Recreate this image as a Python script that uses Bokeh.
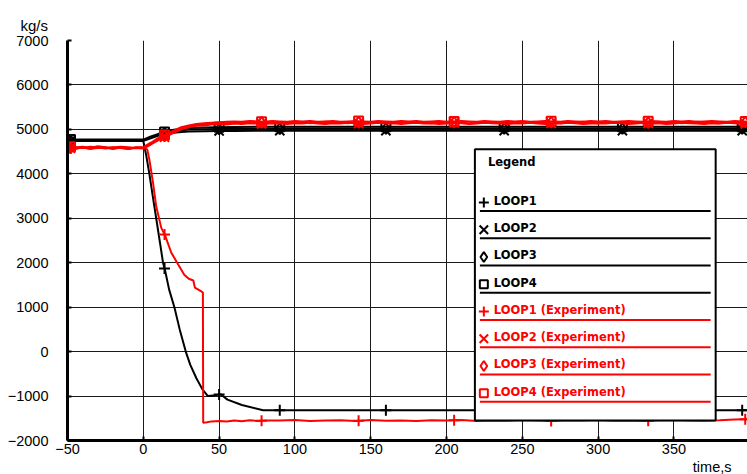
import numpy as np
from bokeh.plotting import figure
from bokeh.models import Label, FixedTicker, Title
from bokeh.embed import file_html
from bokeh.resources import INLINE

# ---- axes ----
X_TICKS = [-50, 0, 50, 100, 150, 200, 250, 300, 350]
Y_TICKS = [-2000, -1000, 0, 1000, 2000, 3000, 4000, 5000, 6000, 7000]

# ---- simulation (black) ----
T_SIM = [-50, -25, 0, 5, 10, 15, 20, 25, 30, 40, 50, 60, 80, 100, 150, 200, 250, 300, 350, 400]
SIM_LOOP2 = [4740, 4745, 4745, 4800, 4860, 4900, 4925, 4940, 4950, 4960, 4965, 4965, 4970, 4970,
             4970, 4970, 4970, 4970, 4970, 4970]
SIM_LOOP3 = [4750, 4755, 4755, 4820, 4880, 4930, 4960, 4980, 4995, 5005, 5010, 5015, 5015, 5020,
             5020, 5020, 5020, 5020, 5020, 5020]
SIM_LOOP4 = [4770, 4770, 4770, 4840, 4900, 4950, 4990, 5010, 5030, 5045, 5050, 5055, 5060, 5060,
             5060, 5060, 5060, 5060, 5060, 5060]

T_SIM1 = [-50, -25, 0, 2, 4, 6, 8.5, 11, 13, 14.4, 17, 20.5, 24, 28, 31, 35, 39, 42.6, 46, 51,
          55.5, 65, 79, 100, 150, 200, 250, 300, 350, 400]
SIM_LOOP1 = [4745, 4750, 4740, 4400, 4000, 3550, 3000, 2450, 2000, 1820, 1400, 1000, 500, 0,
             -300, -600, -850, -1000, -990, -960, -1080, -1200, -1320, -1320, -1320, -1320,
             -1320, -1320, -1320, -1320]

# ---- experiment (red) ----
T_EXP = [-50, -45, -40, -35, -30, -25, -20, -15, -10, -5,
         0, 5, 10, 15, 20, 25, 30, 35, 40, 45, 50,
         55, 60, 65, 70, 75, 80, 85, 90, 95, 100,
         105, 110, 115, 120, 125, 130, 135, 140, 145, 150,
         155, 160, 165, 170, 175, 180, 185, 190, 195, 200,
         205, 210, 215, 220, 225, 230, 235, 240, 245, 250,
         255, 260, 265, 270, 275, 280, 285, 290, 295, 300,
         305, 310, 315, 320, 325, 330, 335, 340, 345, 350,
         355, 360, 365, 370, 375, 380, 385, 390, 395, 400]
EXP_LOOP2 = [4590, 4560, 4600, 4570, 4580, 4600, 4560, 4590, 4570, 4580,
             4570, 4660, 4760, 4840, 4920, 5000, 5050, 5080, 5090, 5110, 5120,
             5110, 5130, 5120, 5140, 5130, 5120, 5140, 5130, 5120, 5140,
             5130, 5150, 5130, 5120, 5140, 5130, 5150, 5140, 5120, 5130,
             5150, 5130, 5140, 5120, 5140, 5150, 5130, 5140, 5120, 5130,
             5150, 5140, 5120, 5130, 5150, 5140, 5130, 5120, 5140, 5130,
             5150, 5130, 5120, 5140, 5130, 5150, 5140, 5120, 5130, 5140,
             5130, 5150, 5140, 5120, 5130, 5150, 5130, 5140, 5120, 5130,
             5150, 5140, 5130, 5120, 5140, 5130, 5150, 5140, 5120, 5130]
EXP_LOOP3 = [4570, 4600, 4580, 4610, 4590, 4570, 4600, 4580, 4560, 4600,
             4590, 4680, 4790, 4870, 4950, 5030, 5070, 5100, 5110, 5130, 5140,
             5150, 5140, 5160, 5150, 5170, 5150, 5140, 5160, 5150, 5170,
             5160, 5140, 5150, 5170, 5160, 5150, 5140, 5160, 5170, 5150,
             5160, 5140, 5150, 5170, 5160, 5150, 5160, 5140, 5150, 5170,
             5160, 5150, 5140, 5160, 5170, 5150, 5160, 5140, 5150, 5170,
             5160, 5150, 5170, 5160, 5140, 5150, 5160, 5170, 5150, 5140,
             5160, 5150, 5170, 5160, 5150, 5140, 5160, 5170, 5150, 5160,
             5140, 5150, 5170, 5160, 5150, 5140, 5160, 5150, 5170, 5160]
EXP_LOOP4 = [4620, 4590, 4610, 4580, 4620, 4600, 4590, 4610, 4600, 4580,
             4600, 4700, 4810, 4890, 4970, 5050, 5090, 5120, 5140, 5150, 5160,
             5170, 5180, 5170, 5190, 5180, 5170, 5190, 5180, 5170, 5190,
             5180, 5190, 5170, 5180, 5190, 5170, 5180, 5190, 5180, 5170,
             5190, 5180, 5170, 5190, 5180, 5190, 5170, 5180, 5190, 5170,
             5180, 5190, 5180, 5170, 5190, 5180, 5170, 5190, 5180, 5190,
             5170, 5180, 5190, 5180, 5170, 5190, 5180, 5170, 5190, 5180,
             5190, 5170, 5180, 5190, 5180, 5170, 5190, 5180, 5170, 5190,
             5180, 5190, 5170, 5180, 5190, 5180, 5170, 5190, 5180, 5170]

T_EXP1 = [-50, -45, -40, -35, -30, -25, -20, -15, -10, -5, 0,
          2.6, 4, 6.4, 8.5, 11.8, 14.4, 18.4, 23, 27, 30, 33, 34, 36, 38, 39.3,
          39.5, 42, 45, 50, 55, 60, 65, 70, 75, 80,
          90, 100, 110, 120, 130, 140, 150, 160, 170, 180, 190, 200, 210, 220, 230, 240,
          250, 260, 270, 280, 290, 300, 310, 320, 330, 340, 350, 360, 370, 380, 390, 400]
EXP_LOOP1 = [4600, 4570, 4590, 4560, 4600, 4580, 4570, 4600, 4560, 4590, 4580,
             4550, 4320, 3800, 3270, 2790, 2610, 2230, 1960, 1730, 1640, 1600, 1440, 1400, 1360, 1330,
             -1600, -1590, -1570, -1560, -1575, -1550, -1565, -1545, -1560, -1550,
             -1550, -1540, -1560, -1550, -1545, -1560, -1540, -1555, -1550, -1560, -1545, -1550,
             -1540, -1560, -1550, -1555, -1540, -1550, -1560, -1545, -1550, -1540, -1555, -1550,
             -1560, -1545, -1540, -1550, -1555, -1545, -1530, -1520]

# times at which symbols are placed along each curve
SIM_MARK_T = [-48, 14, 50, 90, 160, 238, 316, 395]
EXP_MARK_T = [-48, 14, 78, 142, 205, 269, 333, 397]

BLACK = "#000000"
RED = "#ff0000"

SERIES = [
    ("LOOP1", T_SIM1, SIM_LOOP1, BLACK, "cross", SIM_MARK_T),
    ("LOOP2", T_SIM, SIM_LOOP2, BLACK, "x", SIM_MARK_T),
    ("LOOP3", T_SIM, SIM_LOOP3, BLACK, "diamond", SIM_MARK_T),
    ("LOOP4", T_SIM, SIM_LOOP4, BLACK, "square", SIM_MARK_T),
    ("LOOP1 (Experiment)", T_EXP1, EXP_LOOP1, RED, "cross", EXP_MARK_T),
    ("LOOP2 (Experiment)", T_EXP, EXP_LOOP2, RED, "x", EXP_MARK_T),
    ("LOOP3 (Experiment)", T_EXP, EXP_LOOP3, RED, "diamond", EXP_MARK_T),
    ("LOOP4 (Experiment)", T_EXP, EXP_LOOP4, RED, "square", EXP_MARK_T),
]
MARKER_SIZE = {"cross": 11, "x": 13, "diamond": 11, "square": 9}

p = figure(width=747, height=474, x_range=(-50, 398.5), y_range=(-2000, 7000),
           output_backend="svg", toolbar_location=None,
           min_border_left=67, min_border_right=0, min_border_top=40, min_border_bottom=33)
p.outline_line_color = None
p.background_fill_color = "white"
p.border_fill_color = "white"

for ax in (p.xaxis, p.yaxis):
    ax.axis_line_width = 3
    ax.axis_line_color = BLACK
    ax.major_tick_in = 4
    ax.major_tick_out = 0
    ax.major_tick_line_width = 2
    ax.minor_tick_line_color = None
    ax.major_label_text_font = "Liberation Sans"
    ax.major_label_text_font_size = "14.5px"
    ax.major_label_text_color = BLACK
p.xaxis.ticker = FixedTicker(ticks=X_TICKS)
p.yaxis.ticker = FixedTicker(ticks=Y_TICKS)
p.xaxis.major_label_standoff = 3
p.yaxis.major_label_standoff = 19

for g in (p.xgrid, p.ygrid):
    g.grid_line_color = "#1a1a1a"
    g.grid_line_width = 1
p.xgrid.ticker = FixedTicker(ticks=X_TICKS)
p.ygrid.ticker = FixedTicker(ticks=Y_TICKS)

# curves and their symbols
for name, t, v, color, marker, mark_t in SERIES:
    p.line(t, v, line_color=color, line_width=2)
    mv = np.interp(mark_t, t, v)
    p.scatter(mark_t, mv, marker=marker, size=MARKER_SIZE[marker], line_color=color,
              line_width=2, fill_color=None)

# legend panel (data units)
LEG_LEFT, LEG_RIGHT, LEG_TOP, LEG_BOTTOM = 218.7, 377.5, 4555, -1548
LEG_FIRST_LINE, LEG_STEP = 3164, 613
p.quad(left=[LEG_LEFT], right=[LEG_RIGHT], top=[LEG_TOP], bottom=[LEG_BOTTOM],
       fill_color="white", line_color=BLACK, line_width=2, level="guide")
p.add_layout(Label(x=227.3, y=4264, text="Legend", text_font="DejaVu Sans",
                   text_font_style="bold", text_font_size="11.5px", text_color=BLACK,
                   text_baseline="middle", text_align="left"))
for i, (name, t, v, color, marker, mark_t) in enumerate(SERIES):
    ly = LEG_FIRST_LINE - LEG_STEP * i
    p.segment(x0=[222.0], y0=[ly], x1=[374.2], y1=[ly], line_color=color, line_width=2,
              level="guide")
    p.scatter([224.6], [ly + 190], marker=marker, size=MARKER_SIZE[marker] - 1,
              line_color=color, line_width=2, fill_color=None, level="guide")
    p.add_layout(Label(x=231.2, y=ly + 225, text=name, text_font="DejaVu Sans",
                       text_font_style="bold", text_font_size="11.5px", text_color=color,
                       text_baseline="middle", text_align="left"))

# axis titles
p.add_layout(Title(text="kg/s", align="left", offset=-47, text_font="Liberation Sans",
                   text_font_size="15px", text_font_style="normal", text_color=BLACK,
                   standoff=14), "above")
p.add_layout(Title(text="time,s", align="right", offset=16, text_font="Liberation Sans",
                   text_font_size="14.5px", text_font_style="normal", text_color=BLACK,
                   standoff=0), "below")

open("out.html", "w").write(file_html(p, INLINE))
